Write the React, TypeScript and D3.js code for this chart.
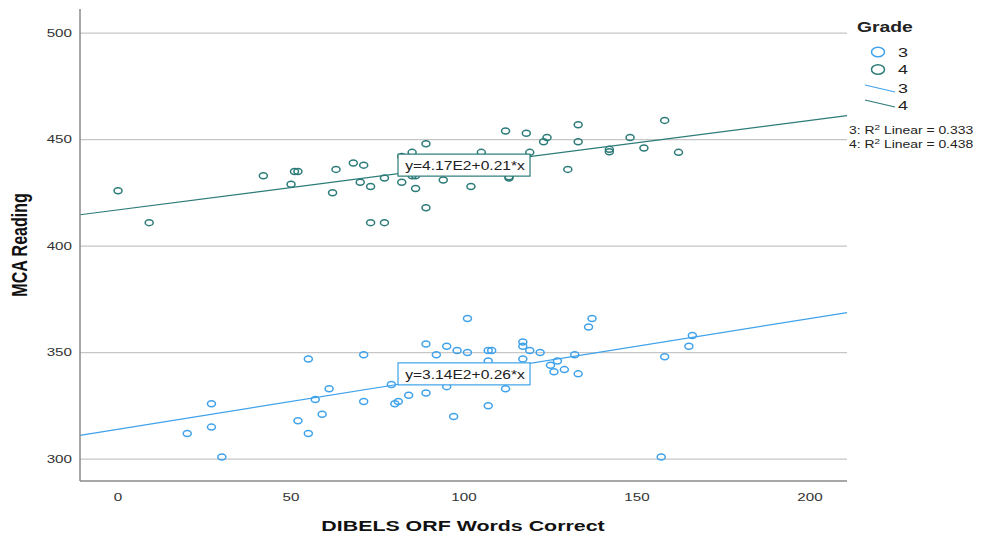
import React from "react";
import * as d3 from "d3";

// grade 4 scatter (DIBELS ORF words correct vs MCA reading)
const grade4X = [0, 9, 42, 50, 51, 52, 62, 63, 68, 70, 71, 73, 73, 77, 77, 82, 82, 86, 89, 85, 89, 85, 86, 94, 102, 105, 112, 113, 113, 118, 119, 123, 124, 130, 133, 133, 142, 142, 148, 152, 158, 162];
const grade4Y = [426, 411, 433, 429, 435, 435, 425, 436, 439, 430, 438, 428, 411, 432, 411, 430, 442, 427, 418, 444, 448, 433, 433, 431, 428, 444, 454, 432.5, 432, 453, 444, 449, 451, 436, 457, 449, 445.4, 444.3, 451, 446, 459, 444];

// grade 3 scatter
const grade3X = [20, 27, 27, 30, 52, 55, 55, 57, 59, 61, 71, 71, 79, 80, 81, 84, 89, 89, 92, 95, 95, 98, 101, 101, 97, 107, 108, 107, 107, 112, 117, 117, 117, 119, 122, 125, 127, 126, 129, 132, 133, 136, 137, 158, 157, 165, 166];
const grade3Y = [312, 315, 326, 301, 318, 347, 312, 328, 321, 333, 349, 327, 335, 326, 327, 330, 331, 354, 349, 353, 334, 351, 366, 350, 320, 351, 351, 346, 325, 333, 355, 353, 347, 351, 350, 344, 346, 341, 342, 349, 340, 362, 366, 348, 301, 353, 358];

const grades = ["3", "4"];
const intercepts = [314, 417];
const slopes = [0.26, 0.21];
const fitLabels = ["y=3.14E2+0.26*x", "y=4.17E2+0.21*x"];
const rSquared = ["0.333", "0.438"];

const xTicks = [0, 50, 100, 150, 200];
const yTicks = [300, 350, 400, 450, 500];

const W = 981;
const H = 535;
const SX = 1.38; // the reference is stretched sideways
const FONT = "'Liberation Sans', Arial, sans-serif";
const colors = ["#3fa2ea", "#2b7b78"];

const x = d3.scaleLinear().domain([-11, 210.7]).range([80, 847]);
const y = d3.scaleLinear().domain([289.7, 511.3]).range([481, 9]);

const T = ({ x: tx, y: ty, size, anchor = "start", bold = false, fill = "#222", sx = SX, children }: any) => (
  <g transform={`translate(${tx},${ty}) scale(${sx},1)`}>
    <text
      textAnchor={anchor}
      dominantBaseline="central"
      fontSize={size}
      fontWeight={bold ? "bold" : "normal"}
      fontFamily={FONT}
      fill={fill}
    >
      {children}
    </text>
  </g>
);

export default function App() {
  const series = [
    grade3X.map((d, i) => [d, grade3Y[i]]),
    grade4X.map((d, i) => [d, grade4Y[i]]),
  ];
  const [x0, x1] = x.domain();

  return (
    <svg width={W} height={H} style={{ position: "absolute", left: 0, top: 0, background: "#fff" }}>
      {/* grid */}
      {yTicks.map((t) => (
        <line key={t} x1={80} x2={847} y1={y(t)} y2={y(t)} stroke="#c6c6c6" strokeWidth={1.3} />
      ))}

      {/* fit lines */}
      {grades.map((g, i) => (
        <line
          key={g}
          x1={x(x0)}
          x2={x(x1)}
          y1={y(intercepts[i] + slopes[i] * x0)}
          y2={y(intercepts[i] + slopes[i] * x1)}
          stroke={colors[i]}
          strokeWidth={1.2}
        />
      ))}

      {/* points */}
      {series.map((pts, i) =>
        pts.map((p, j) => (
          <ellipse
            key={`${i}-${j}`}
            cx={x(p[0])}
            cy={y(p[1])}
            rx={4}
            ry={3}
            fill="none"
            stroke={colors[i]}
            strokeWidth={1.5}
          />
        ))
      )}

      {/* equation boxes, centred on each line at x = 100 */}
      {grades.map((g, i) => {
        const cx = x(100);
        const cy = y(intercepts[i] + slopes[i] * 100);
        return (
          <g key={g}>
            <rect x={cx - 66} y={cy - 11} width={132} height={22} fill="#fff" stroke={colors[i]} strokeWidth={1.2} />
            <T x={cx + 1} y={cy + 0.5} size={12} sx={1.3} anchor="middle" fill="#222">
              {fitLabels[i]}
            </T>
          </g>
        );
      })}

      {/* axes */}
      <line x1={80} x2={80} y1={9} y2={481} stroke="#8a8a8a" strokeWidth={1.5} />
      <line x1={80} x2={847} y1={481} y2={481} stroke="#8a8a8a" strokeWidth={1.5} />

      {yTicks.map((t) => (
        <T key={t} x={72} y={y(t)} size={11} anchor="end" fill="#333">
          {t}
        </T>
      ))}
      {xTicks.map((t) => (
        <T key={t} x={x(t)} y={497} size={11} anchor="middle" fill="#333">
          {t}
        </T>
      ))}

      <g transform={`translate(20,245) scale(${SX},1) rotate(-90)`}>
        <text textAnchor="middle" dominantBaseline="central" fontSize={16} fontWeight="bold" fontFamily={FONT} fill="#111">
          MCA Reading
        </text>
      </g>
      <T x={463} y={526} size={15.5} anchor="middle" bold fill="#111">
        DIBELS ORF Words Correct
      </T>

      {/* legend */}
      <T x={857} y={27} size={14} bold fill="#222">
        Grade
      </T>
      {grades.map((g, i) => (
        <g key={g}>
          <ellipse cx={878} cy={52 + i * 17.5} rx={6.5} ry={4.8} fill="none" stroke={colors[i]} strokeWidth={1.5} />
          <T x={898} y={52 + i * 17.5} size={13} fill="#222">
            {g}
          </T>
          <line x1={865} y1={85 + i * 15} x2={895} y2={92 + i * 15} stroke={colors[i]} strokeWidth={1.2} />
          <T x={898} y={88 + i * 17} size={13} fill="#222">
            {g}
          </T>
        </g>
      ))}
      {grades.map((g, i) => (
        <g key={g} transform={`translate(849,${131 + i * 14}) scale(${SX * 0.96},1)`}>
          <text dominantBaseline="central" fontSize={10.5} fontFamily={FONT} fill="#222">
            {g}: R<tspan dy={-4} fontSize={7.5}>2</tspan>
            <tspan dy={4}> Linear = {rSquared[i]}</tspan>
          </text>
        </g>
      ))}
    </svg>
  );
}
